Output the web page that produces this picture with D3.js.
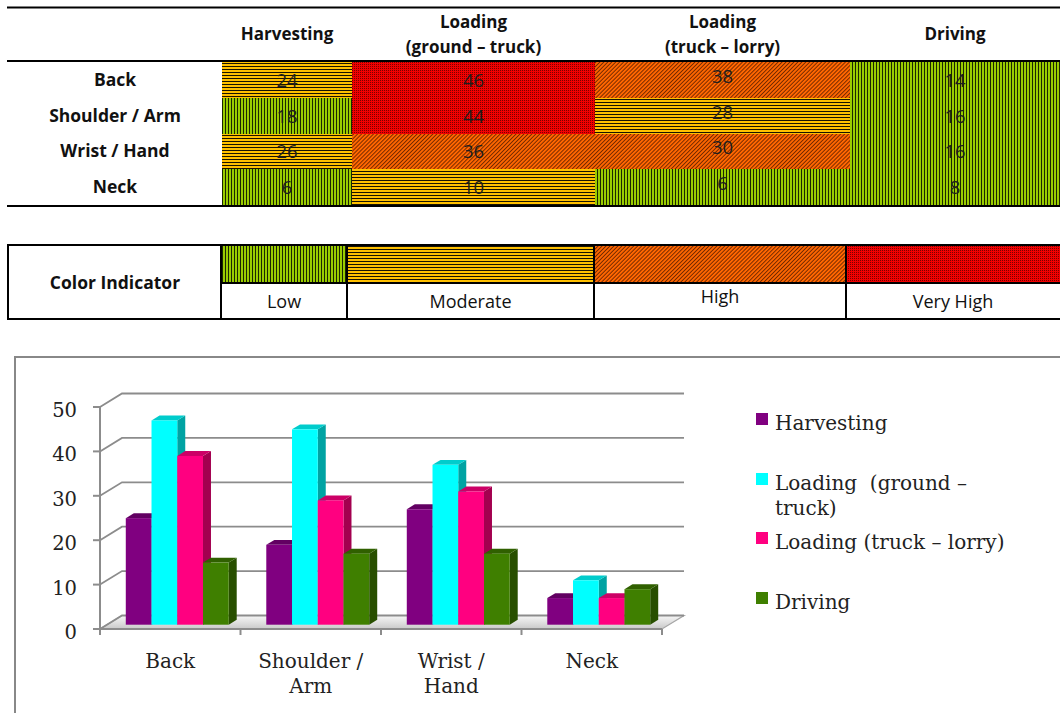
<!DOCTYPE html>
<html>
<head>
<meta charset="utf-8">
<script src="https://cdn.jsdelivr.net/npm/d3@7"></script>
<style>
  body { margin: 0; background: #fff; }
  svg { display: block; }
</style>
</head>
<body>
<svg id="chart" width="1060" height="713"></svg>
<script>
// ---- data ----
const categories = ["Back", "Shoulder / Arm", "Wrist / Hand", "Neck"];
const series = ["Harvesting", "Loading (ground – truck)", "Loading (truck – lorry)", "Driving"];
const harvesting = [24, 18, 26, 6];
const loadingGround = [46, 44, 36, 10];
const loadingTruck = [38, 28, 30, 6];
const driving = [14, 16, 16, 8];
const riskLevels = ["Low", "Moderate", "High", "Very High"];
// risk level (index into riskLevels) of each table cell, in category order
const harvestingRisk = [1, 0, 1, 0];
const loadingGroundRisk = [3, 3, 2, 1];
const loadingTruckRisk = [2, 1, 2, 0];
const drivingRisk = [0, 0, 0, 0];
const headerLines = [["Harvesting"], ["Loading", "(ground – truck)"], ["Loading", "(truck – lorry)"], ["Driving"]];
const axisLabelLines = [["Back"], ["Shoulder /", "Arm"], ["Wrist /", "Hand"], ["Neck"]];
const legendLines = [["Harvesting"], ["Loading  (ground –", "truck)"], ["Loading (truck – lorry)"], ["Driving"]];
const yTicks = [0, 10, 20, 30, 40, 50];

const values = [harvesting, loadingGround, loadingTruck, driving];
const risks = [harvestingRisk, loadingGroundRisk, loadingTruckRisk, drivingRisk];
const barColors = ["#800080", "#00ffff", "#ff0080", "#3f7f00"];
const sideColors = ["#560056", "#00a3a3", "#a3004f", "#284f00"];
const topColors = ["#620062", "#00cccc", "#cc0066", "#306000"];

const svg = d3.select("#chart");
const defs = svg.append("defs");
const sans = "'Open Sans', 'DejaVu Sans', sans-serif";
const serif = "'DejaVu Serif', serif";

// ---- fill patterns for the risk levels ----
function addPattern(id, w, h, bg, transform) {
  const p = defs.append("pattern").attr("id", id)
    .attr("patternUnits", "userSpaceOnUse")
    .attr("width", w).attr("height", h);
  if (transform) p.attr("patternTransform", transform);
  p.append("rect").attr("width", w).attr("height", h).attr("fill", bg);
  return p;
}
addPattern("p-low", 3, 6, "#99cc00")
  .append("rect").attr("width", 1).attr("height", 6).attr("fill", "#1c2600");
addPattern("p-moderate", 6, 3, "#ffc000")
  .append("rect").attr("width", 6).attr("height", 1).attr("fill", "#1a1400");
addPattern("p-high", 2.8, 6, "#ff6600", "rotate(45)")
  .append("rect").attr("width", 0.8).attr("height", 6).attr("fill", "#5a1e00");
const vh = addPattern("p-veryhigh", 2, 2, "#f20000");
vh.append("rect").attr("width", 1).attr("height", 1).attr("fill", "#7a0000")
  .attr("shape-rendering", "crispEdges");
const riskFill = ["url(#p-low)", "url(#p-moderate)", "url(#p-high)", "url(#p-veryhigh)"];

// ---- top table ----
const colEdges = [222, 352, 595, 850, 1060];
const col = d3.scaleOrdinal().domain(series).range(colEdges.slice(0, 4));
const colW = s => colEdges[series.indexOf(s) + 1] - col(s);
const row = d3.scaleBand().domain(categories).range([62, 205]);
const textShift = [0, 0, -4, 0];

const table = svg.append("g");
series.forEach((s, j) => {
  table.append("g").selectAll("rect").data(categories).join("rect")
    .attr("x", col(s)).attr("y", c => row(c))
    .attr("width", colW(s)).attr("height", row.bandwidth())
    .attr("fill", (c, i) => riskFill[risks[j][i]])
    .attr("shape-rendering", "crispEdges");
  table.append("g").selectAll("text").data(categories).join("text")
    .attr("x", col(s) + colW(s) / 2)
    .attr("y", c => row(c) + row.bandwidth() / 2 + 7 + textShift[j])
    .attr("text-anchor", "middle")
    .attr("font-family", sans).attr("font-size", 18.5).attr("fill", "#1e1e1e")
    .text((c, i) => values[j][i]);
  const h = table.append("text")
    .attr("text-anchor", "middle").attr("font-family", sans)
    .attr("font-size", 17).attr("font-weight", "bold").attr("fill", "#111");
  const lines = headerLines[j];
  lines.forEach((ln, k) => {
    h.append("tspan").attr("x", col(s) + colW(s) / 2)
      .attr("y", lines.length === 1 ? 40 : 28 + k * 25).text(ln);
  });
});
table.append("g").selectAll("text").data(categories).join("text")
  .attr("x", 115).attr("y", c => row(c) + row.bandwidth() / 2 + 6)
  .attr("text-anchor", "middle").attr("font-family", sans)
  .attr("font-size", 17.5).attr("font-weight", "bold").attr("fill", "#111")
  .text(c => c);
[7.5, 61, 206].forEach(yy => {
  table.append("line").attr("x1", 7).attr("x2", 1060).attr("y1", yy).attr("y2", yy)
    .attr("stroke", "#000").attr("stroke-width", 2);
});

// ---- color indicator table ----
const keyEdges = [221, 347, 594, 846, 1060];
const keyG = svg.append("g");
keyG.selectAll("rect.sw").data(riskLevels).join("rect").attr("class", "sw")
  .attr("x", (d, i) => keyEdges[i]).attr("y", 245)
  .attr("width", (d, i) => keyEdges[i + 1] - keyEdges[i]).attr("height", 38)
  .attr("fill", (d, i) => riskFill[i]).attr("shape-rendering", "crispEdges");
const keyShift = [0, 0, -5, 0];
keyG.selectAll("text.lbl").data(riskLevels).join("text").attr("class", "lbl")
  .attr("x", (d, i) => (keyEdges[i] + keyEdges[i + 1]) / 2)
  .attr("y", (d, i) => 308 + keyShift[i])
  .attr("text-anchor", "middle").attr("font-family", sans)
  .attr("font-size", 18).attr("fill", "#111").text(d => d);
keyG.append("text").attr("x", 115).attr("y", 289).attr("text-anchor", "middle")
  .attr("font-family", sans).attr("font-size", 17.5).attr("font-weight", "bold")
  .attr("fill", "#111").text("Color Indicator");
keyG.append("rect").attr("x", 8).attr("y", 245).attr("width", 1060).attr("height", 74)
  .attr("fill", "none").attr("stroke", "#000").attr("stroke-width", 2);
keyG.append("line").attr("x1", 221).attr("x2", 1060).attr("y1", 283).attr("y2", 283)
  .attr("stroke", "#000").attr("stroke-width", 2);
keyEdges.slice(0, 4).forEach(xx => {
  keyG.append("line").attr("x1", xx).attr("x2", xx).attr("y1", 245).attr("y2", 319)
    .attr("stroke", "#000").attr("stroke-width", 2);
});

// ---- 3D column chart ----
svg.append("rect").attr("x", 15).attr("y", 357).attr("width", 1100).attr("height", 400)
  .attr("fill", "#fff").attr("stroke", "#888").attr("stroke-width", 2);

const x = d3.scaleBand().domain(categories).range([100, 662]);
const y = d3.scaleLinear().domain([0, 50]).range([629, 407]);
const xs = d3.scaleBand().domain(series).range([0, x.bandwidth()]).paddingOuter(0.73);
const DX = 22, DY = -13.5;          // depth of the back wall
const FX = 7, FY = -4.3;            // front plane of the bars
const BX = 8, BY = -4.9;            // depth of one bar

const grad = defs.append("linearGradient").attr("id", "floor")
  .attr("x1", 0).attr("y1", 1).attr("x2", 0).attr("y2", 0);
grad.append("stop").attr("offset", 0).attr("stop-color", "#c9c9c9");
grad.append("stop").attr("offset", 1).attr("stop-color", "#f7f7f7");

const chart = svg.append("g");
const [x0, x1] = x.range();
chart.append("polygon")
  .attr("points", [[x0, y(0)], [x1, y(0)], [x1 + DX, y(0) + DY], [x0 + DX, y(0) + DY]].join(" "))
  .attr("fill", "url(#floor)").attr("stroke", "#a6a6a6").attr("stroke-width", 1.2);

chart.append("g").selectAll("path").data(yTicks).join("path")
  .attr("d", v => `M${x0},${y(v)}L${x0 + DX},${y(v) + DY}L${x1 + DX},${y(v) + DY}`)
  .attr("fill", "none").attr("stroke", "#8c8c8c").attr("stroke-width", 1.8);

// y axis
chart.append("line").attr("x1", x0).attr("x2", x0).attr("y1", y(0) + 1).attr("y2", y(50))
  .attr("stroke", "#8c8c8c").attr("stroke-width", 2);
chart.append("g").selectAll("line").data(yTicks).join("line")
  .attr("x1", x0 - 7).attr("x2", x0).attr("y1", v => y(v)).attr("y2", v => y(v))
  .attr("stroke", "#8c8c8c").attr("stroke-width", 2);
chart.append("g").selectAll("text").data(yTicks).join("text")
  .attr("x", 77).attr("y", v => y(v) + 10).attr("text-anchor", "end")
  .attr("font-family", serif).attr("font-size", 19.5).attr("fill", "#222")
  .text(v => v);

// x axis
chart.append("line").attr("x1", x0).attr("x2", x1).attr("y1", y(0)).attr("y2", y(0))
  .attr("stroke", "#8c8c8c").attr("stroke-width", 2);
chart.append("g").selectAll("line").data([...categories.map(c => x(c)), x1]).join("line")
  .attr("x1", d => d).attr("x2", d => d).attr("y1", y(0)).attr("y2", y(0) + 6)
  .attr("stroke", "#8c8c8c").attr("stroke-width", 2);
const xl = chart.append("g").selectAll("text").data(categories).join("text")
  .attr("text-anchor", "middle").attr("font-family", serif)
  .attr("font-size", 20).attr("fill", "#222");
xl.each(function (c, i) {
  axisLabelLines[i].forEach((ln, k) => {
    d3.select(this).append("tspan").attr("x", x(c) + x.bandwidth() / 2)
      .attr("y", 668 + k * 25).text(ln);
  });
});

// bars
const barData = [];
categories.forEach((c, i) => series.forEach((s, j) => barData.push({c, s, j, v: values[j][i]})));
const bw = xs.bandwidth();
const bars = chart.append("g").selectAll("g").data(barData).join("g");
bars.append("polygon")
  .attr("points", d => {
    const l = x(d.c) + xs(d.s) + FX + bw, t = y(d.v) + FY, b = y(0) + FY;
    return [[l, t], [l + BX, t + BY], [l + BX, b + BY], [l, b]].join(" ");
  })
  .attr("fill", d => sideColors[d.j]);
bars.append("polygon")
  .attr("points", d => {
    const l = x(d.c) + xs(d.s) + FX, t = y(d.v) + FY;
    return [[l, t], [l + bw, t], [l + bw + BX, t + BY], [l + BX, t + BY]].join(" ");
  })
  .attr("fill", d => topColors[d.j]);
bars.append("rect")
  .attr("x", d => x(d.c) + xs(d.s) + FX).attr("y", d => y(d.v) + FY)
  .attr("width", bw).attr("height", d => y(0) - y(d.v))
  .attr("fill", d => barColors[d.j]);

// legend
const leg = chart.append("g").selectAll("g").data(series).join("g");
const legY = [430, 490, 549, 609];
leg.append("rect").attr("x", 756).attr("y", (d, j) => legY[j] - 17)
  .attr("width", 12).attr("height", 12).attr("fill", (d, j) => barColors[j]);
leg.append("text").attr("font-family", serif).attr("font-size", 20).attr("fill", "#222")
  .each(function (d, j) {
    legendLines[j].forEach((ln, k) => {
      d3.select(this).append("tspan").attr("x", 775).attr("y", legY[j] + k * 25)
        .attr("xml:space", "preserve").text(ln);
    });
  });
</script>
</body>
</html>
